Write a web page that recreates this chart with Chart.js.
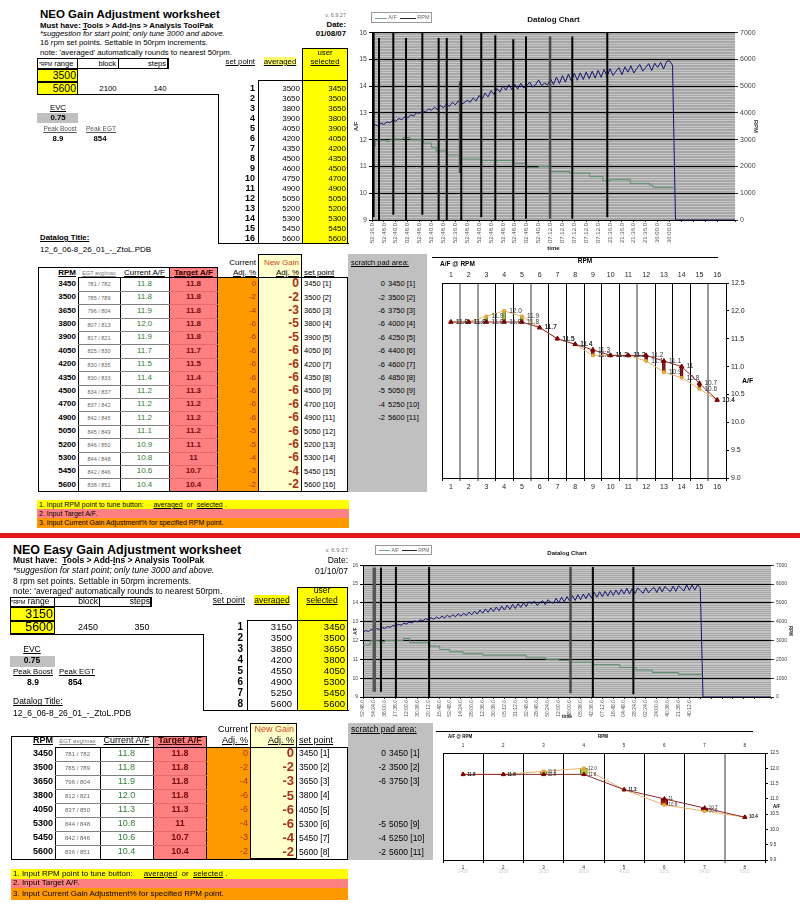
<!DOCTYPE html>
<html>
<head>
<meta charset="utf-8">
<title>NEO Gain Adjustment worksheet</title>
<script src="https://cdn.jsdelivr.net/npm/chart.js@4.4.1/dist/chart.umd.min.js"></script>
<style>
  html, body { margin: 0; padding: 0; background: #fff; }
  #page { position: relative; width: 800px; height: 910px; overflow: hidden; font-family: "Liberation Sans", Arial, sans-serif; color: #000; }
  #page div { position: absolute; box-sizing: border-box; white-space: nowrap; }
  canvas { position: absolute; }
</style>
</head>
<body>
<div id="page">
  <canvas id="log1" width="450" height="252" style="left:350px;top:0px"></canvas>
  <canvas id="af1" width="370" height="248" style="left:430px;top:252px"></canvas>
  <canvas id="log2" width="460" height="182" style="left:340px;top:538px"></canvas>
  <canvas id="af2" width="365" height="165" style="left:435px;top:722px"></canvas>
</div>
<script>
// ---------- worksheet 1 (16 set points) ----------
const setPoints16 = ['1','2','3','4','5','6','7','8','9','10','11','12','13','14','15','16'];
const averaged16 = [3500,3650,3800,3900,4050,4200,4350,4500,4600,4750,4900,5050,5200,5300,5450,5600];
const selected16 = [3450,3500,3650,3800,3900,4050,4200,4350,4500,4700,4900,5050,5200,5300,5450,5600];
const egt16 = ['781 / 782','785 / 789','796 / 804','807 / 813','817 / 821','825 / 830','830 / 835','830 / 833',
               '834 / 837','837 / 842','842 / 845','845 / 849','846 / 850','844 / 848','842 / 846','838 / 851'];
const currentAf16 = [11.8,11.8,11.9,12.0,11.9,11.7,11.5,11.4,11.2,11.2,11.2,11.1,10.9,10.8,10.6,10.4];
const targetAf16 = [11.8,11.8,11.8,11.8,11.8,11.7,11.5,11.4,11.3,11.2,11.2,11.2,11.1,11,10.7,10.4];
const currentAdj16 = [0,-2,-4,-6,-6,-6,-6,-6,-6,-6,-6,-5,-5,-4,-3,-2];
const newGain16 = [0,-2,-3,-5,-5,-6,-6,-6,-6,-6,-6,-6,-6,-6,-4,-2];
const scratchAdj16 = [0,-2,-6,-6,-6,-6,-6,-6,-5,-4,-2];
const scratchRpm16 = [3450,3500,3750,4000,4250,4400,4600,4850,5050,5250,5600];
const scratchIdx16 = [1,2,3,4,5,6,7,8,9,10,11];

// ---------- worksheet 2 (8 set points) ----------
const setPoints8 = ['1','2','3','4','5','6','7','8'];
const averaged8 = [3150,3500,3850,4200,4550,4900,5250,5600];
const selected8 = [3450,3500,3650,3800,4050,5300,5450,5600];
const egt8 = ['781 / 782','785 / 789','796 / 804','812 / 821','837 / 850','844 / 848','842 / 846','836 / 851'];
const currentAf8 = [11.8,11.8,11.9,12.0,11.3,10.8,10.6,10.4];
const targetAf8 = [11.8,11.8,11.8,11.8,11.3,11,10.7,10.4];
const currentAdj8 = [0,-2,-4,-6,-6,-4,-3,-2];
const newGain8 = [0,-2,-3,-5,-6,-6,-4,-2];
const scratchAdj8 = [0,-2,-6,null,null,-5,-4,-2];
const scratchRpm8 = [3450,3500,3750,null,null,5050,5250,5600];
const scratchIdx8 = [1,2,3,null,null,9,10,11];

// ---------- datalog 1 (sample index, 4 samples per time label) ----------
const times1 = ['52:36.0','52:48.0','52:40.0','02:48.0','52:48.0','52:40.0','52:48.0','52:36.0','52:48.0','52:40.0',
                '52:48.0','52:48.0','52:48.0','02:48.0','52:40.0','07:12.0','07:12.0','07:12.0','07:12.0','07:12.0',
                '21:36.0','21:36.0','21:36.0','21:36.0','36:00.0','36:00.0'];
const rpm1 = [3480,3560,3510,3620,3570,3660,3630,3720,3690,3790,
              3750,3850,3810,3930,3880,4010,3990,4090,4040,4150,
              4100,4210,4130,4280,4190,4330,4240,4400,4300,4450,
              4330,4380,4470,4400,4560,4450,4650,4520,4740,4600,
              4830,4690,4910,4780,5010,4850,5050,4870,5060,4890,
              5110,4930,5020,5150,4960,5060,5230,5020,5120,5040,
              5280,5060,5340,5100,5390,5150,5450,5190,5480,5220,
              5500,5250,5530,5280,5560,5300,5590,5330,5620,5370,
              5650,5400,5560,5690,5430,5720,5520,5760,5490,5660,
              5810,5560,5700,5840,5580,5860,5700,5890,5640,5920,
              5950,5780,0];
const log1End = 122;
const af1At = [0,1.2,4.8,6,10.4,12.8,17.2,20,21.6,25.2,29.6,36.4,47.6,52,56,60,66.4,73.2,77.6,80,86.8,93.2,94.4,101.4];
const af1 = [11.75,11.98,11.93,12.02,12.08,12.0,11.87,11.72,11.58,11.43,11.28,11.22,11.12,10.96,11.0,10.81,10.75,10.62,10.47,10.52,10.37,10.3,10.22,10.22];
const mark1At = [2.36,7.16,11.44,16.92,22.4,25.12,30,36.72,41.44,47.48,51.76,67.32,79.08];
const mark1Top = [15.8,16,15.8,16,15.8,15.8,15.9,16,15.9,15.75,15.85,15.85,16];
const mark1Bottom = [9.0,9.2,9.0,9.2,9.0,9.0,9.0,9.1,9.0,9.0,9.05,9.05,9.1];
const gray1At = [29.6,59.84];
const gray1Top = [14.17,15.85];
const gray1Bottom = [10.76,9.05];
const thick1At = [0.3];
const thick1Top = [16];
const thick1Bottom = [9.1];

// ---------- datalog 2 ----------
const times2 = ['52:48.0','54:24.0','36:00.0','17:36.0','12:00.0','30:36.0','20:12.0','15:48.0','52:48.0','14:24.0',
                '26:00.0','12:36.0','30:36.0','05:12.0','31:12.0','32:48.0','28:48.0','50:24.0','12:00.0','48:00.0',
                '05:36.0','42:36.0','07:12.0','18:48.0','04:48.0','28:24.0','02:24.0','24:00.0','40:36.0','21:36.0','40:12.0'];
const rpm2 = [3450,3530,3480,3580,3540,3630,3590,3690,3640,3740,
              3700,3800,3750,3860,3810,3920,3870,3980,3930,4040,
              3990,4100,4050,4160,4100,4210,4130,4250,4160,4290,
              4200,4340,4230,4370,4260,4420,4290,4450,4330,4510,
              4370,4560,4400,4620,4450,4680,4500,4730,4540,4780,
              4580,4830,4620,4870,4660,4920,4700,4960,4760,5010,
              4800,5060,4950,5090,4870,4990,5120,4900,5170,5040,
              4980,5240,5010,5300,5050,5330,5090,5380,5130,5430,
              5170,5470,5220,5510,5260,5560,5300,5590,5330,5620,
              5360,5650,5400,5680,5430,5720,5470,5770,5480,5760,
              5500,5790,5650,5510,5800,5530,5700,5820,5550,5850,
              5580,5870,5720,5600,5890,5610,5910,5760,5630,5960,
              5670,5950,5680,5960,5800,0];
const log2End = 150;
const af2At = [0,2.6,6,8,14.8,17.2,24.6,28.2,31.9,36.8,44,60,67.2,72,76,84.4,94.4,100.4,106.4,116,124.8];
const af2 = [11.76,11.99,11.92,12.0,12.11,11.88,11.7,11.53,11.4,11.3,11.22,11.08,11.0,10.95,10.85,10.72,10.57,10.43,10.3,10.2,10.2];
const mark2At = [6.6,12.1,24.3,84.5,99.4];
const mark2Top = [15.88,15.9,15.9,15.9,15.9];
const mark2Bottom = [9.28,9.0,9.0,9.0,9.15];
const gray2At = [76.3];
const gray2Top = [15.9];
const gray2Bottom = [9.2];
const thick2At = [4.15];
const thick2Top = [15.88];
const thick2Bottom = [9.28];

// ---------- html helpers ----------
const page = document.getElementById('page');

function rect(x, y, w, h, css, parent) {
  const d = document.createElement('div');
  d.style.left = x + 'px'; d.style.top = y + 'px';
  d.style.width = w + 'px'; d.style.height = h + 'px';
  Object.assign(d.style, css || {});
  (parent || page).appendChild(d);
  return d;
}

function txt(x, yc, s, o) {
  o = o || {};
  const size = o.size || 8, h = size * 1.3;
  const d = document.createElement('div');
  const W = o.parent ? parseFloat(o.parent.style.width) : 800;
  d.style.top = (yc - h / 2) + 'px';
  d.style.height = h + 'px';
  d.style.lineHeight = h + 'px';
  d.style.fontSize = size + 'px';
  if (o.align === 'right') d.style.right = (W - x) + 'px';
  else if (o.align === 'center') { d.style.left = (x - 100) + 'px'; d.style.width = '200px'; d.style.textAlign = 'center'; }
  else d.style.left = x + 'px';
  if (o.bold) d.style.fontWeight = 'bold';
  if (o.italic) d.style.fontStyle = 'italic';
  if (o.u) d.style.textDecoration = 'underline';
  if (o.color) d.style.color = o.color;
  if (o.html) d.innerHTML = s; else d.textContent = s;
  (o.parent || page).appendChild(d);
  return d;
}

const BLACK = {background: '#000'};
const YELLOW = '#ffff00';

function setPointRows(g, nums, avg, sel) {
  nums.forEach((n, i) => {
    const yc = g.row0 + i * g.rowH;
    txt(g.setRight, yc, n, {align: 'right', bold: true, size: g.fsNum});
    txt(g.avgRight, yc, String(avg[i]), {align: 'right', size: g.fs});
    txt(g.usrRight, yc, String(sel[i]), {align: 'right', size: g.fs});
  });
}

function gainTable(g, d) {
  const c = g.cols, n = d.rpm.length;
  const bottom = g.rowTop + n * g.rowH;
  const line = '1px solid #000';
  rect(c[3], g.hdrTop, c[4] - c[3], bottom - g.hdrTop, {background: '#ff8080', borderLeft: line, borderRight: line, borderTop: line});
  rect(c[4], g.rowTop, c[5] - c[4], bottom - g.rowTop, {background: '#ff9900'});
  rect(c[5], g.newTop, c[6] - c[5], bottom - g.newTop, {background: '#ffffcc', border: line});
  rect(c[0], g.hdrTop, c[3] - c[0], bottom - g.hdrTop, {borderLeft: line, borderTop: line});
  rect(c[6], g.rowTop, c[7] - c[6], bottom - g.rowTop, {borderTop: line, borderRight: line});
  rect(c[0], bottom - 0.5, c[7] - c[0], 1.3, BLACK);
  rect(c[1], g.rowTop, 1, bottom - g.rowTop, BLACK);
  rect(c[2], g.rowTop, 1, bottom - g.rowTop, BLACK);
  rect(c[1], g.rowTop, c[7] - c[1], 1, BLACK);
  for (let i = 1; i < n; i++) {
    const y = g.rowTop + i * g.rowH;
    rect(c[1], y, c[3] - c[1], 1, {background: '#808080'});
    rect(c[3], y, c[4] - c[3], 1, {background: '#e86a6a'});
  }
  txt(c[1] - 2, g.hdrY2, 'RPM', {align: 'right', bold: true, u: true, size: g.fs});
  txt((c[1] + c[2]) / 2, g.hdrY2 + 1, 'EGT avg/max', {align: 'center', u: true, size: g.fsSmall, color: '#777'});
  txt((c[2] + c[3]) / 2, g.hdrY2, 'Current A/F', {align: 'center', u: true, size: g.fs});
  txt((c[3] + c[4]) / 2, g.hdrY2, 'Target A/F', {align: 'center', u: true, bold: true, size: g.fs, color: '#300'});
  txt(c[5] - 2, g.hdrY1, 'Current', {align: 'right', size: g.fs});
  txt(c[5] - 2, g.hdrY2, 'Adj. %', {align: 'right', u: true, size: g.fs});
  txt(c[6] - 3, g.hdrY1, 'New Gain', {align: 'right', size: g.fs, color: '#d2451e'});
  txt(c[6] - 3, g.hdrY2, 'Adj. %', {align: 'right', u: true, size: g.fs});
  txt(c[6] + 2, g.hdrY2, 'set point', {u: true, size: g.fs});
  for (let i = 0; i < n; i++) {
    const yc = g.rowTop + (i + 0.5) * g.rowH;
    txt(c[1] - 2, yc, String(d.rpm[i]), {align: 'right', bold: true, size: g.fs});
    txt((c[1] + c[2]) / 2, yc + 1, d.egt[i], {align: 'center', size: g.fsSmall, color: '#666'});
    txt((c[2] + c[3]) / 2, yc, d.cur[i].toFixed(1), {align: 'center', size: g.fs, color: '#2f7d32'});
    txt((c[3] + c[4]) / 2, yc, String(d.tgt[i]), {align: 'center', bold: true, size: g.fs, color: '#7a0a0a'});
    txt(c[5] - 2, yc, String(d.adj[i]), {align: 'right', size: g.fs, color: '#b5301a'});
    txt(c[6] - 3, yc, String(d.gain[i]), {align: 'right', bold: true, size: g.fsBig, color: '#a8301e'});
    txt(c[6] + 2, yc, d.rpm[i] + ' [' + (i + 1) + ']', {size: g.fs - 0.5});
  }
}

function scratchPad(g, adj, rpm, idx) {
  const box = rect(g.x, g.y, g.w, g.h, {background: '#c0c0c0', overflow: 'hidden'});
  txt(3, g.hdrY - g.y, 'scratch pad area:', {u: true, size: g.fs, parent: box});
  adj.forEach((a, i) => {
    if (a === null) return;
    const yc = g.rowTop + (i + 0.5) * g.rowH - g.y;
    txt(g.split - g.x, yc, String(a), {align: 'right', size: g.fs, parent: box});
    txt(g.split - g.x + 3, yc, rpm[i] + ' [' + idx[i] + ']', {size: g.fs, parent: box});
  });
}

function instructions(x, y, w, hs, fs) {
  rect(x, y, w, hs[0], {background: '#ffff00'});
  txt(x + 2, y + hs[0] / 2, '1. Input RPM point to tune button:&nbsp;&nbsp;&nbsp;&nbsp; <u>averaged</u>&nbsp; or &nbsp;<u>selected</u> .', {html: true, size: fs});
  rect(x, y + hs[0], w, hs[1], {background: '#ff8080'});
  txt(x + 2, y + hs[0] + hs[1] / 2, '2. Input Target A/F.', {size: fs});
  rect(x, y + hs[0] + hs[1], w, hs[2], {background: '#ff9900'});
  txt(x + 2, y + hs[0] + hs[1] + hs[2] / 2, '3. Input Current Gain Adjustment% for specified RPM point.', {size: fs});
}

function logLegend(x, y, w, h, fs) {
  rect(x, y, w, h, {border: '1px solid #999', background: '#fff'});
  rect(x + 4, y + h / 2, w * 0.2, 1, {background: '#7aa386'});
  txt(x + 5 + w * 0.2, y + h / 2, 'A/F', {size: fs, color: '#666'});
  rect(x + w * 0.48, y + h / 2, w * 0.26, 1, {background: '#222'});
  txt(x + w * 0.76, y + h / 2, 'RPM', {size: fs, color: '#666'});
}

// ================= worksheet 1 =================
txt(40, 14, 'NEO Gain Adjustment worksheet', {size: 11.5, bold: true});
txt(40, 26, 'Must have: <u>T</u>ools &gt; Add-<u>I</u>ns &gt; Analysis ToolPak', {size: 7.8, bold: true, html: true});
txt(40, 34.5, '*suggestion for start point; only tune 3000 and above.', {size: 7.8, italic: true});
txt(40, 43.5, '16 rpm set points. Settable in 50rpm increments.', {size: 7.8});
txt(40, 53, "note: 'averaged' automatically rounds to nearest 50rpm.", {size: 7.8});
txt(346, 16, 'v. 6.9.27', {size: 5.5, align: 'right', color: '#777'});
txt(346, 25.5, 'Date:', {size: 7.8, bold: true, align: 'right'});
txt(346, 34.5, '01/08/07', {size: 7.8, bold: true, align: 'right'});

rect(37, 58, 41, 11, {border: '1px solid #000'});
rect(78, 58, 41, 11, {borderTop: '1px solid #000', borderRight: '1px solid #000', borderBottom: '1px solid #000'});
rect(119, 58, 50, 11, {borderTop: '1px solid #000', borderRight: '2px solid #000', borderBottom: '1px solid #000'});
txt(39, 63.5, '<span style="font-size:5px">*RPM</span> range', {size: 7.5, html: true});
txt(116, 63.5, 'block', {align: 'right', size: 7.5});
txt(166, 63.5, 'steps', {align: 'right', size: 7.5});
rect(37, 69, 41, 13, {background: YELLOW, border: '1px solid #000'});
rect(37, 82, 41, 13, {background: YELLOW, border: '1px solid #000'});
txt(76, 75.5, '3500', {align: 'right', size: 10.5});
txt(76, 88.5, '5600', {align: 'right', size: 10.5});
txt(108, 89, '2100', {align: 'center', size: 7.8});
txt(160, 89, '140', {align: 'center', size: 7.8});
rect(37, 94, 182, 1.2, BLACK);
rect(217.5, 94, 1.2, 150, BLACK);
rect(217.5, 243, 131, 1.2, BLACK);
rect(302, 48, 46, 196, {background: YELLOW, border: '1px solid #000'});
rect(258, 80, 90, 1, BLACK);
rect(258, 80, 1, 164, BLACK);
txt(255, 62, 'set point', {align: 'right', u: true, size: 7.8});
txt(280, 62, '<span style="background:#ffff70">averaged</span>', {align: 'center', u: true, size: 7.8, html: true});
txt(325, 53, 'user', {align: 'center', size: 7.8});
txt(325, 62, 'selected', {align: 'center', u: true, size: 7.8});
setPointRows({row0: 89, rowH: 10, setRight: 255, avgRight: 300, usrRight: 346, fsNum: 9, fs: 8}, setPoints16, averaged16, selected16);

txt(58, 108, 'EVC', {align: 'center', u: true, size: 7.8});
rect(37, 113, 41, 10, {background: '#c0c0c0'});
txt(58, 118, '0.75', {align: 'center', bold: true, size: 7.8});
txt(60, 129, 'Peak Boost', {align: 'center', u: true, size: 6.5, color: '#555'});
txt(101, 129, 'Peak EGT', {align: 'center', u: true, size: 6.5, color: '#555'});
txt(58, 139, '8.9', {align: 'center', bold: true, size: 7.8});
txt(100, 139, '854', {align: 'center', bold: true, size: 7.8});
txt(40, 238, 'Datalog Title:', {bold: true, u: true, size: 7.8});
txt(40, 250, '12_6_06-8_26_01_-_ZtoL.PDB', {size: 8});

gainTable({cols: [38, 78, 120, 169, 218, 258, 302, 348], hdrTop: 267, rowTop: 277.3, rowH: 13.4, newTop: 254,
           hdrY1: 263, hdrY2: 273, fs: 8, fsSmall: 5.5, fsBig: 12},
          {rpm: selected16, egt: egt16, cur: currentAf16, tgt: targetAf16, adj: currentAdj16, gain: newGain16});
scratchPad({x: 348, y: 254, w: 79, h: 238, hdrY: 263, rowTop: 277.3, rowH: 13.4, split: 385, fs: 7.5},
           scratchAdj16, scratchRpm16, scratchIdx16);
instructions(37, 500, 312, [9, 8.5, 10], 7);

rect(0, 533, 800, 5, {background: '#e3191b'});

// ================= worksheet 2 =================
txt(13, 550, 'NEO Easy Gain Adjustment worksheet', {size: 12.5, bold: true});
txt(13, 561, 'Must have:&nbsp; <u>T</u>ools &gt; Add-<u>I</u>ns &gt; Analysis ToolPak', {size: 8.5, bold: true, html: true});
txt(13, 571, '*suggestion for start point; only tune 3000 and above.', {size: 8.5, italic: true});
txt(13, 582, '8 rpm set points. Settable in 50rpm increments.', {size: 8.5});
txt(13, 592, "note: 'averaged' automatically rounds to nearest 50rpm.", {size: 8.5});
txt(348, 551, 'v. 6.9.27', {size: 6, align: 'right', color: '#777'});
txt(348, 561, 'Date:', {size: 8.5, align: 'right'});
txt(348, 572, '01/10/07', {size: 8.5, align: 'right'});

rect(10, 597, 45, 10, {border: '1px solid #000'});
rect(55, 597, 45, 10, {borderTop: '1px solid #000', borderRight: '1px solid #000', borderBottom: '1px solid #000'});
rect(100, 597, 52, 10, {borderTop: '1px solid #000', borderRight: '2px solid #000', borderBottom: '1px solid #000'});
txt(11, 602, '<span style="font-size:5.5px">*RPM</span> range', {size: 8.5, html: true});
txt(98, 602, 'block', {align: 'right', size: 8.5});
txt(150, 602, 'steps', {align: 'right', size: 8.5});
rect(10, 607, 45, 14, {background: YELLOW, border: '1px solid #000'});
rect(10, 621, 45, 13, {background: YELLOW, border: '1px solid #000'});
txt(53, 614, '3150', {align: 'right', size: 12.5});
txt(53, 627.5, '5600', {align: 'right', size: 12.5});
txt(88, 628, '2450', {align: 'center', size: 9});
txt(142, 628, '350', {align: 'center', size: 9});
rect(10, 633.5, 194, 1.2, BLACK);
rect(202.5, 633.5, 1.2, 77, BLACK);
rect(202.5, 709.5, 146, 1.2, BLACK);
rect(297, 587, 51, 123.5, {background: YELLOW, border: '1px solid #000'});
rect(247, 620, 101, 1, BLACK);
rect(247, 620, 1, 90, BLACK);
txt(245, 601, 'set point', {align: 'right', u: true, size: 8.5});
txt(272, 601, '<span style="background:#ffff00">averaged</span>', {align: 'center', u: true, size: 8.5, html: true});
txt(322, 591, 'user', {align: 'center', size: 8.5});
txt(322, 601, 'selected', {align: 'center', u: true, size: 8.5});
setPointRows({row0: 626.7, rowH: 11.04, setRight: 243, avgRight: 292, usrRight: 345, fsNum: 10, fs: 9.5}, setPoints8, averaged8, selected8);

txt(32, 650, 'EVC', {align: 'center', u: true, size: 8.5});
rect(10, 656, 45, 10.5, {background: '#c0c0c0'});
txt(32, 661, '0.75', {align: 'center', bold: true, size: 8.5});
txt(33, 672, 'Peak Boost', {align: 'center', u: true, size: 7.8});
txt(77, 672, 'Peak EGT', {align: 'center', u: true, size: 7.8});
txt(33, 683, '8.9', {align: 'center', bold: true, size: 8.5});
txt(75, 683, '854', {align: 'center', bold: true, size: 8.5});
txt(13, 702, 'Datalog Title:', {u: true, size: 8.5});
txt(13, 714, '12_6_06-8_26_01_-_ZtoL.PDB', {size: 8.5});

gainTable({cols: [11, 55, 100, 153, 207, 250, 297, 348], hdrTop: 736, rowTop: 746.7, rowH: 14.08, newTop: 723.3,
           hdrY1: 729.5, hdrY2: 741, fs: 9, fsSmall: 6, fsBig: 13},
          {rpm: selected8, egt: egt8, cur: currentAf8, tgt: targetAf8, adj: currentAdj8, gain: newGain8});
scratchPad({x: 348, y: 723.3, w: 85, h: 136.5, hdrY: 729.5, rowTop: 746.7, rowH: 14.08, split: 386, fs: 8.5},
           scratchAdj8, scratchRpm8, scratchIdx8);
instructions(11, 869, 337, [10, 9, 12], 8);

// chart side labels
logLegend(371, 12, 61, 11, 5.5);
logLegend(375, 545, 57, 10, 5);
rect(432, 256.5, 286, 1.3, BLACK);
txt(440, 264, 'A/F @ RPM', {bold: true, size: 6.5});
txt(585, 261, 'RPM', {align: 'center', bold: true, size: 6.5});
txt(742, 381, 'A/F', {bold: true, size: 7});
rect(436, 730.5, 317, 1, BLACK);
txt(448, 737, 'A/F @ RPM', {bold: true, size: 4.5});
txt(603, 737, 'RPM', {align: 'center', bold: true, size: 4.5});
txt(773, 807, 'A/F', {bold: true, size: 4.5});

// ---------- charts ----------
Chart.defaults.font.family = '"Liberation Sans", Arial, sans-serif';
Chart.defaults.animation = false;
Chart.defaults.responsive = false;
Chart.defaults.devicePixelRatio = 1;
Chart.defaults.plugins.legend.display = false;
Chart.defaults.plugins.tooltip.enabled = false;

const plotBg = {
  id: 'plotBg',
  beforeDraw(chart, args, opts) {
    if (!opts.color) return;
    const {ctx, chartArea: a} = chart;
    ctx.save();
    ctx.fillStyle = opts.color;
    ctx.fillRect(a.left, a.top, a.right - a.left, a.bottom - a.top);
    ctx.restore();
  }
};

const valueLabels = {
  id: 'valueLabels',
  afterDatasetsDraw(chart, args, opts) {
    const ctx = chart.ctx;
    ctx.save();
    ctx.font = opts.size + 'px "Liberation Sans", Arial, sans-serif';
    ctx.fillStyle = '#333';
    ctx.textBaseline = 'middle';
    chart.data.datasets.forEach((ds, i) => {
      if (!ds.valueFormat) return;
      chart.getDatasetMeta(i).data.forEach((pt, j) => {
        const v = ds.data[j];
        const s = ds.valueFormat === 'fixed' ? v.toFixed(1) : String(v);
        ctx.fillText(s, pt.x + opts.dx, pt.y);
      });
    });
    ctx.restore();
  }
};

function dropLines(at, top, bottom) {
  const pts = [];
  at.forEach((t, i) => { pts.push({x: t, y: top[i]}, {x: t, y: bottom[i]}, {x: t, y: null}); });
  return pts;
}

function datalog(id, d, g) {
  return new Chart(document.getElementById(id), {
    type: 'line',
    data: {
      datasets: [
        {data: dropLines(d.markAt, d.markTop, d.markBottom), borderColor: '#000', borderWidth: 2, pointRadius: 0, yAxisID: 'y'},
        {data: dropLines(d.grayAt, d.grayTop, d.grayBottom), borderColor: '#4a4a4a', borderWidth: 2.5, pointRadius: 0, yAxisID: 'y'},
        {data: dropLines(d.thickAt, d.thickTop, d.thickBottom), borderColor: g.thickColor, borderWidth: 3.5, pointRadius: 0, yAxisID: 'y'},
        {data: d.afAt.map((t, i) => ({x: t, y: d.af[i]})), stepped: true, borderColor: '#5d8f6e', borderWidth: 1, pointRadius: 0, yAxisID: 'y'},
        {data: d.rpm.map((v, i) => ({x: i, y: v})).concat([{x: d.end, y: 0}]), borderColor: '#14146e', borderWidth: 1, pointRadius: 0, yAxisID: 'y2'}
      ]
    },
    options: {
      layout: {padding: {left: 0, right: g.padRight, top: 0, bottom: 0}},
      plugins: {
        plotBg: {color: '#a7a7a7'},
        title: {display: true, text: 'Datalog Chart', fullSize: false, color: '#111',
                font: {size: g.titleSize, weight: 'bold'}, padding: {top: g.titleTop, bottom: g.titleBottom}}
      },
      scales: {
        x: {type: 'linear', min: 0, max: d.end,
            grid: {drawOnChartArea: false, tickLength: 2, color: '#333'}, border: {display: false},
            ticks: {stepSize: 4, autoSkip: false, minRotation: 90, maxRotation: 90, padding: 1,
                    font: {size: g.xFont}, color: '#555', callback: v => d.times[v / 4] || ''},
            title: {display: true, text: 'time', color: '#222', font: {size: g.xFont, weight: 'bold'}, padding: 0},
            afterFit: s => { s.height = g.xH; }},
        yMinor: {position: 'left', min: 9, max: 16, z: -1, ticks: {display: false, stepSize: 0.1},
                 grid: {color: '#c6c6c6', drawTicks: false}, border: {display: false},
                 afterFit: s => { s.width = 0; }},
        y: {position: 'left', min: 9, max: 16,
            ticks: {stepSize: 1, font: {size: g.yFont}, color: '#444', padding: 2, callback: v => String(v)},
            grid: {color: '#000', tickLength: 3}, border: {color: '#000'},
            title: {display: true, text: 'A/F', color: '#333', font: {size: g.tFont, weight: 'bold'}, padding: {top: g.afTitle, bottom: 0}},
            afterFit: s => { s.width = g.yW; }},
        y2: {position: 'right', min: 0, max: 7000,
             ticks: {stepSize: 1000, font: {size: g.yFont}, color: '#444', padding: 2, callback: v => String(v)},
             grid: {drawOnChartArea: false, tickLength: 3, color: '#333'}, border: {display: false},
             title: {display: true, text: 'RPM', color: '#333', font: {size: g.tFont, weight: 'bold'}, padding: 0},
             afterFit: s => { s.width = g.y2W; }}
      }
    },
    plugins: [plotBg]
  });
}

function afChart(id, d, g) {
  const bars = d.target.map((t, i) => d.current[i] === t ? null : [Math.min(t, d.current[i]), Math.max(t, d.current[i])]);
  const up = d.target.map((t, i) => d.current[i] > t);
  const lineColor = c => g.grayLines.includes(c.index) ? '#9a9a9a' : '#000';
  const lineWidth = c => g.grayLines.includes(c.index) ? 2 : 1;
  const scales = {
    x: {type: 'category', position: 'bottom', offset: true, weight: 0,
        grid: {offset: true, color: lineColor, lineWidth: lineWidth, tickLength: 3}, border: {color: '#000'},
        ticks: {font: {size: g.fs}, color: '#222', padding: 2, maxRotation: 0, autoSkip: false},
        afterFit: s => { s.height = g.xH; }},
    xTop: {type: 'category', position: 'top', offset: true,
           grid: {display: false, drawTicks: false}, border: {display: true, color: '#000'},
           ticks: {font: {size: g.fs}, color: '#222', padding: g.topPad, maxRotation: 0, autoSkip: false},
           afterFit: s => { s.height = g.topH; }},
    y: {position: 'right', min: 9, max: 12.5,
        ticks: {stepSize: 0.5, callback: v => v.toFixed(1), font: {size: g.fs}, color: '#222', padding: 2},
        grid: {drawOnChartArea: false, color: '#000', tickLength: 3}, border: {color: '#000'},
        afterFit: s => { s.width = g.yW; }}
  };
  if (d.rpmRow) {
    scales.xR = {type: 'category', position: 'bottom', offset: true, weight: 1, labels: d.rpmRow.map(String),
                 grid: {display: false, drawTicks: false}, border: {display: false},
                 ticks: {font: {size: g.fs}, color: '#cfcfcf', padding: 0, maxRotation: 0, autoSkip: false},
                 afterFit: s => { s.height = g.xH; }};
  }
  return new Chart(document.getElementById(id), {
    type: 'line',
    data: {
      labels: d.points,
      datasets: [
        {data: d.target, valueFormat: 'general', borderColor: '#8e2b2b', borderWidth: 1,
         pointStyle: 'triangle', pointRadius: g.triR, pointBackgroundColor: '#7d0000', pointBorderColor: '#7d0000', pointBorderWidth: 1},
        {data: d.current, valueFormat: 'fixed', borderColor: '#e7b36a', borderWidth: 1,
         pointStyle: 'rect', pointRadius: g.rectR, pointBackgroundColor: '#f2c14e', pointBorderColor: '#d89a2a', pointBorderWidth: 1},
        {type: 'bar', data: bars, barThickness: g.barW, borderWidth: 1, borderSkipped: false,
         backgroundColor: up.map(u => u ? '#b5c93a' : '#9c1c1c'), borderColor: up.map(u => u ? '#6d7a1e' : '#5a0a0a')}
      ]
    },
    options: {
      layout: {padding: {left: g.padLeft, right: g.padRight, top: 0, bottom: g.padBottom}},
      plugins: {valueLabels: {size: g.labelSize, dx: g.dx}},
      scales: scales
    },
    plugins: [valueLabels]
  });
}

datalog('log1',
  {rpm: rpm1, end: log1End, times: times1, afAt: af1At, af: af1,
   markAt: mark1At, markTop: mark1Top, markBottom: mark1Bottom,
   grayAt: gray1At, grayTop: gray1Top, grayBottom: gray1Bottom,
   thickAt: thick1At, thickTop: thick1Top, thickBottom: thick1Bottom},
  {padRight: 41, y2W: 24, yW: 22, xH: 32, titleSize: 8, titleTop: 15, titleBottom: 8,
   xFont: 6, yFont: 7, tFont: 6, afTitle: 3, thickColor: '#000'});

datalog('log2',
  {rpm: rpm2, end: log2End, times: times2, afAt: af2At, af: af2,
   markAt: mark2At, markTop: mark2Top, markBottom: mark2Bottom,
   grayAt: gray2At, grayTop: gray2Top, grayBottom: gray2Bottom,
   thickAt: thick2At, thickTop: thick2Top, thickBottom: thick2Bottom},
  {padRight: 7, y2W: 22, yW: 23, xH: 23, titleSize: 6, titleTop: 12, titleBottom: 8,
   xFont: 5, yFont: 5, tFont: 4.5, afTitle: 13, thickColor: '#555'});

afChart('af1', {points: setPoints16, target: targetAf16, current: currentAf16},
  {grayLines: [1, 2, 5, 11, 15], fs: 7, xH: 22, topH: 31, topPad: 4, yW: 34,
   padLeft: 12, padRight: 40, padBottom: 0, triR: 2.6, rectR: 1.8, barW: 3, labelSize: 6.5, dx: 5});

afChart('af2', {points: setPoints8, target: targetAf8, current: currentAf8, rpmRow: selected8},
  {grayLines: [7], fs: 4.5, xH: 9, topH: 31, topPad: 5, yW: 20,
   padLeft: 8, padRight: 15, padBottom: 9, triR: 2.4, rectR: 1.8, barW: 7, labelSize: 4.5, dx: 4});
</script>
</body>
</html>
